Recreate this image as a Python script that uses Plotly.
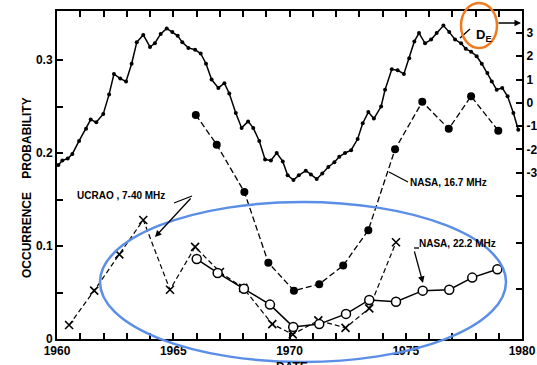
import plotly.graph_objects as go

# ---- data ----
de_years = [1960.06, 1960.23, 1960.46, 1960.66, 1960.95, 1961.25, 1961.45, 1961.69, 1961.99,
            1962.24, 1962.45, 1962.72, 1962.97, 1963.21, 1963.43, 1963.71, 1964.00, 1964.21,
            1964.46, 1964.72, 1964.96, 1965.19, 1965.39, 1965.65, 1965.94, 1966.18, 1966.41,
            1966.65, 1966.94, 1967.20, 1967.41, 1967.69, 1967.94, 1968.22, 1968.44, 1968.70,
            1968.95, 1969.20, 1969.45, 1969.71, 1969.92, 1970.17, 1970.40, 1970.70, 1970.92,
            1971.17, 1971.41, 1971.67, 1971.93, 1972.14, 1972.39, 1972.65, 1972.93, 1973.15,
            1973.39, 1973.63, 1973.94, 1974.11, 1974.40, 1974.65, 1974.92, 1975.15, 1975.37,
            1975.57, 1975.83, 1976.09, 1976.33, 1976.62, 1976.87, 1977.12, 1977.38, 1977.58,
            1977.81, 1978.05, 1978.27, 1978.51, 1978.70, 1978.91, 1979.15, 1979.38, 1979.63,
            1979.84]
de_prob = [0.187, 0.192, 0.194, 0.199, 0.213, 0.226, 0.236, 0.233, 0.242,
           0.263, 0.285, 0.280, 0.277, 0.296, 0.319, 0.327, 0.314, 0.318,
           0.328, 0.334, 0.330, 0.326, 0.319, 0.313, 0.311, 0.307, 0.296,
           0.279, 0.270, 0.275, 0.264, 0.243, 0.227, 0.234, 0.227, 0.213,
           0.193, 0.192, 0.200, 0.191, 0.176, 0.171, 0.176, 0.181, 0.177,
           0.172, 0.178, 0.185, 0.190, 0.196, 0.200, 0.203, 0.215, 0.232,
           0.244, 0.237, 0.250, 0.268, 0.290, 0.289, 0.285, 0.302, 0.320,
           0.329, 0.318, 0.322, 0.329, 0.337, 0.330, 0.322, 0.318, 0.312,
           0.309, 0.304, 0.296, 0.286, 0.277, 0.268, 0.270, 0.261, 0.243,
           0.225]

nasa167_years = [1965.97, 1966.87, 1968.06, 1969.09, 1970.19, 1971.28, 1972.31, 1973.39,
                 1974.54, 1975.71, 1976.85, 1977.81, 1978.98]
nasa167_prob = [0.241, 0.209, 0.158, 0.082, 0.052, 0.059, 0.079, 0.117,
                0.204, 0.255, 0.226, 0.261, 0.224]

nasa222_years = [1966.01, 1966.91, 1968.04, 1969.16, 1970.16, 1971.28, 1972.43, 1973.43,
                 1974.58, 1975.73, 1976.87, 1977.86, 1978.94]
nasa222_prob = [0.086, 0.071, 0.054, 0.037, 0.013, 0.016, 0.027, 0.042,
                0.040, 0.052, 0.053, 0.066, 0.075]

ucrao_years = [1960.52, 1961.60, 1962.68, 1963.71, 1964.86, 1965.94, 1967.01, 1968.01,
               1969.26, 1970.14, 1971.24, 1972.41, 1973.43, 1974.58]
ucrao_prob = [0.015, 0.052, 0.091, 0.128, 0.053, 0.099, 0.072, 0.055,
              0.016, 0.005, 0.020, 0.012, 0.033, 0.104]

x_tickvals = list(range(1960, 1981))
x_ticktext = [str(v) if v % 5 == 0 else "" for v in x_tickvals]
y_tickvals = [0, 0.05, 0.1, 0.15, 0.2, 0.25, 0.3]
y_ticktext = ["0", "", "0.1", "", "0.2", "", "0.3"]
de_tickvals = [3, 2, 1, 0, -1, -2, -3, -4, -6, -8]
de_ticktext = ["3", "2", "1", "0", "-1", "-2", "-3", "", "", ""]

# ---- layout geometry (pixels) ----
W, H = 537, 365
L, R, T, B = 57, 15, 11, 26
PW, PH = W - L - R, H - T - B


def xp(px):
    return (px - L) / PW


def yp(py):
    return (H - B - py) / PH


def yr(px):
    return 1960 + (px - L) * 20 / PW


def pr(py):
    return (H - B - py) / PH * 0.3527


FONT = "Liberation Sans"
fig = go.Figure()

fig.add_trace(go.Scatter(x=de_years, y=de_prob, mode="lines+markers", yaxis="y",
                         line=dict(color="black", width=1.5),
                         marker=dict(color="black", size=4), showlegend=False))
fig.add_trace(go.Scatter(x=nasa167_years, y=nasa167_prob, mode="lines+markers",
                         line=dict(color="black", width=1.3, dash="6px,3px"),
                         marker=dict(color="black", size=8), showlegend=False))
fig.add_trace(go.Scatter(x=ucrao_years, y=ucrao_prob, mode="lines+markers",
                         line=dict(color="black", width=1.2, dash="5px,3px"),
                         marker=dict(color="black", size=8, symbol="x-thin",
                                     line=dict(color="black", width=1.6)),
                         showlegend=False))
fig.add_trace(go.Scatter(x=nasa222_years, y=nasa222_prob, mode="lines+markers",
                         line=dict(color="black", width=1.5),
                         marker=dict(color="white", size=9, symbol="circle",
                                     line=dict(color="black", width=1.5)),
                         showlegend=False))
fig.add_trace(go.Scatter(x=[None], y=[None], yaxis="y2", showlegend=False, hoverinfo="skip"))

axis_font = dict(family=FONT, size=12, color="black", weight="bold")

fig.update_layout(
    width=W, height=H,
    margin=dict(l=L, r=R, t=T, b=B, autoexpand=False),
    paper_bgcolor="white", plot_bgcolor="white",
    font=dict(family=FONT, color="black"),
    xaxis=dict(range=[1960, 1980], tickvals=x_tickvals, ticktext=x_ticktext,
               ticks="inside", ticklen=6, tickwidth=1.5, tickcolor="black",
               showline=True, linecolor="black", linewidth=2, mirror="ticks",
               showgrid=False, zeroline=False, tickfont=axis_font, automargin=False),
    yaxis=dict(range=[0, 0.3527], tickvals=y_tickvals, ticktext=y_ticktext,
               ticks="inside", ticklen=6, tickwidth=1.5, tickcolor="black",
               showline=True, linecolor="black", linewidth=2,
               showgrid=False, zeroline=False, tickfont=axis_font, automargin=False),
    yaxis2=dict(range=[-10.13, 3.94], overlaying="y", side="right",
                tickvals=de_tickvals, ticktext=de_ticktext,
                ticks="inside", ticklen=6, tickwidth=1.5, tickcolor="black",
                showline=True, linecolor="black", linewidth=2,
                showgrid=False, zeroline=False, tickfont=axis_font, automargin=False),
)

ann_font = dict(family=FONT, size=10, color="black", weight="bold")
fig.add_annotation(x=xp(18), y=yp(188), xref="paper", yref="paper",
                   text="OCCURRENCE    PROBABILITY", textangle=-90, showarrow=False,
                   font=dict(family=FONT, size=12, color="black", weight="bold"))
fig.add_annotation(x=xp(292), y=yp(358), xref="paper", yref="paper", yanchor="top",
                   text="DATE", showarrow=False, font=axis_font)
fig.add_annotation(x=xp(75), y=yp(196), xref="paper", yref="paper", xanchor="left",
                   text="UCRAO , 7-40 MHz", showarrow=False, font=ann_font)
fig.add_annotation(x=xp(408), y=yp(182), xref="paper", yref="paper", xanchor="left",
                   text="NASA, 16.7 MHz", showarrow=False, font=ann_font)
fig.add_annotation(x=xp(417), y=yp(251), xref="paper", yref="paper", xanchor="left",
                   text="NASA, 22.2 MHz", showarrow=False, font=ann_font)
fig.add_annotation(x=xp(474), y=yp(25), xref="paper", yref="paper", xanchor="left",
                   text="D<sub>E</sub>", showarrow=False,
                   font=dict(family=FONT, size=13, color="black", weight="bold"))

# arrows
for (tx, ty, hx, hy) in [(497, 23, 521, 23), (192, 197, 155, 237), (414, 250, 423, 283)]:
    fig.add_annotation(x=yr(hx), y=pr(hy), ax=yr(tx), ay=pr(ty), xref="x", yref="y",
                       axref="x", ayref="y", text="", showarrow=True,
                       arrowhead=2, arrowsize=1, arrowwidth=1.3, arrowcolor="black")

# leader lines
for (x0, y0, x1, y1) in [(470, 29, 460, 38), (174, 203, 192, 196), (408, 182, 389, 172),
                         (414, 248, 419, 248)]:
    fig.add_shape(type="line", xref="paper", yref="paper",
                  x0=xp(x0), y0=yp(y0), x1=xp(x1), y1=yp(y1),
                  line=dict(color="black", width=1.3))

# highlight ellipses
fig.add_shape(type="circle", xref="paper", yref="paper",
              x0=xp(100), x1=xp(506), y0=yp(362), y1=yp(202),
              line=dict(color="#5B8EE6", width=2.5))
fig.add_shape(type="circle", xref="paper", yref="paper",
              x0=xp(461), x1=xp(497), y0=yp(48), y1=yp(3),
              line=dict(color="#F07A1E", width=2.5))

fig.write_html("out.html")
